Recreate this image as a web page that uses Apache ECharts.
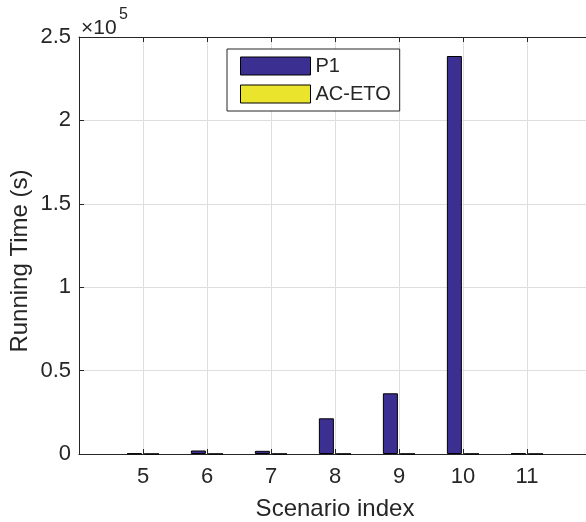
<!DOCTYPE html>
<html>
<head>
<meta charset="utf-8">
<script src="https://cdn.jsdelivr.net/npm/echarts@6/dist/echarts.min.js"></script>
<style>
html,body{margin:0;padding:0;background:#fff;}
#chart{width:586px;height:522px;}
</style>
</head>
<body>
<div id="chart"></div>
<script>
// Data
var scenarios = [5, 6, 7, 8, 9, 10, 11];
var p1Values = [300, 2100, 1900, 21400, 36400, 238600, 300];
var acetoValues = [60, 70, 80, 90, 100, 120, 60];
var seriesNames = ['P1', 'AC-ETO'];
var yTickLabels = ['0', '0.5', '1', '1.5', '2', '2.5'];

var FONT = '"Liberation Sans", Arial, sans-serif';
var TXT = '#262626';

function pairs(xs, ys) { return xs.map(function (x, i) { return [x, ys[i]]; }); }

var chart = echarts.init(document.getElementById('chart'), null, {renderer: 'canvas'});
var option = {
  backgroundColor: '#ffffff',
  animation: false,
  grid: {left: 79, top: 37, height: 417, width: 512, containLabel: false, outerBoundsMode: 'none'},
  legend: {
    data: seriesNames,
    orient: 'vertical',
    left: 227, top: 49,
    padding: [7, 9, 7, 13],
    itemWidth: 70, itemHeight: 18, itemGap: 8,
    backgroundColor: '#fff',
    borderColor: '#262626', borderWidth: 1,
    icon: 'rect',
    textStyle: {fontFamily: FONT, fontSize: 20, color: TXT, padding: [0, 0, 0, 0]},
    itemStyle: {borderColor: '#000', borderWidth: 1}
  },
  xAxis: [{
    type: 'value', min: 4, max: 12, interval: 1,
    name: 'Scenario index', nameLocation: 'middle', nameGap: 43,
    nameTextStyle: {fontFamily: FONT, fontSize: 24, color: TXT},
    axisLine: {show: true, lineStyle: {color: '#262626', width: 1}},
    axisTick: {show: true, inside: true, length: 5, lineStyle: {color: '#262626'}},
    axisLabel: {
      fontFamily: FONT, fontSize: 22, color: TXT, margin: 12,
      formatter: function (v) { return scenarios.indexOf(v) >= 0 ? String(v) : ''; }
    },
    splitLine: {show: true, lineStyle: {color: '#dedede', width: 1}}
  }, {
    type: 'value', min: 4, max: 12, interval: 1, position: 'top',
    axisLine: {show: true, onZero: false, lineStyle: {color: '#262626', width: 1}},
    axisTick: {show: true, inside: true, length: 5, lineStyle: {color: '#262626'}},
    axisLabel: {show: false},
    splitLine: {show: false}
  }],
  yAxis: {
    type: 'value', min: 0, max: 250000, interval: 50000,
    axisLine: {show: true, lineStyle: {color: '#262626', width: 1}},
    axisTick: {show: true, inside: true, length: 5, lineStyle: {color: '#262626'}},
    axisLabel: {
      fontFamily: FONT, fontSize: 22, color: TXT, margin: 8,
      formatter: function (v) { return yTickLabels[Math.round(v / 50000)]; }
    },
    splitLine: {show: true, lineStyle: {color: '#dedede', width: 1}}
  },
  series: [{
    name: seriesNames[0], type: 'bar', xAxisIndex: 0,
    data: pairs(scenarios, p1Values),
    barWidth: 15, barGap: '15%',
    itemStyle: {color: '#3b2f92', borderColor: '#000', borderWidth: 1}
  }, {
    name: seriesNames[1], type: 'bar', xAxisIndex: 0,
    data: pairs(scenarios, acetoValues),
    barWidth: 15, barGap: '15%',
    itemStyle: {color: '#ebe42d', borderColor: '#000', borderWidth: 1}
  }],
  graphic: [{
    type: 'text', left: 8, top: 'middle',
    style: {text: 'Running Time (s)', fontFamily: FONT, fontSize: 24, fill: TXT},
    rotation: Math.PI / 2
  }, {
    type: 'text', x: 81, y: 18,
    style: {text: '×10', fontFamily: FONT, fontSize: 21, fill: TXT, verticalAlign: 'top'}
  }, {
    type: 'text', x: 119, y: 7,
    style: {text: '5', fontFamily: FONT, fontSize: 16, fill: TXT, verticalAlign: 'top'}
  }]
};
chart.setOption(option);
</script>
</body>
</html>
